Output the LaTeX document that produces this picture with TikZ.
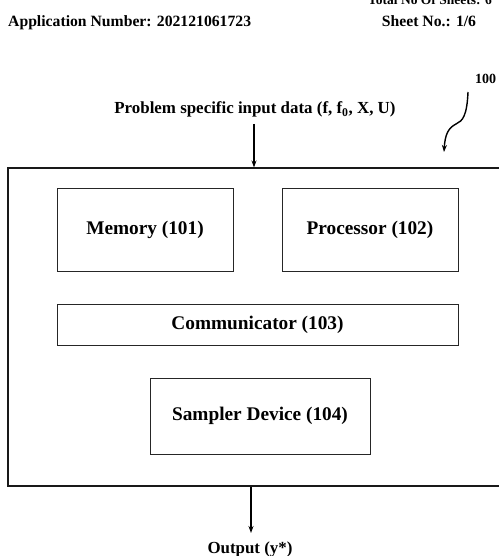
\documentclass[tikz,border=0pt]{standalone}
\usepackage{fontspec}
\setmainfont{Liberation Serif}
\usetikzlibrary{arrows.meta}
\begin{document}
\begin{tikzpicture}[x=1pt,y=-1pt,
  box/.style={draw=black!85,line width=0.9pt,inner sep=0pt,font=\fontsize{19.3}{22}\selectfont\bfseries},
  arr/.style={line width=1.4pt,-{Stealth[length=7pt,width=5pt]}},
  lbl/.style={inner sep=0pt,anchor=base,font=\fontsize{16.9}{20}\selectfont\bfseries},
  hdr/.style={inner sep=0pt,anchor=base,font=\fontsize{15.7}{18}\selectfont\bfseries}]
\useasboundingbox (0,0) rectangle (498,556);
% header
\node[hdr,anchor=base west] (appno) at (8,27) {Application Number: 202121061723};
\node[hdr,font=\fontsize{13.5}{16}\selectfont\bfseries] (total) at (430,4.5) {Total No Of Sheets: 6};
\node[hdr] (sheet) at (429,27) {Sheet No.: 1/6};
% reference numeral
\node[inner sep=0pt,anchor=base west,font=\fontsize{14}{16}\selectfont\bfseries] (ref) at (475,84) {100};
\coordinate (sqA) at (468,92);
\coordinate (sqB) at (444,152);
\draw[line width=1.4pt,-{Stealth[length=7pt,width=5pt]}] (sqA) .. controls (467,115) and (463,121) .. (456,124) .. controls (448,128) and (445,135) .. (sqB);
% outer system box
\node[draw=black!90,line width=1.1pt,minimum width=512pt,minimum height=318pt,inner sep=0pt] (sys) at (264,327) {};
% input
\node[lbl] (input) at (255,114) {Problem specific input data (f, f\textsubscript{0}, X, U)};
\coordinate (inTop) at (254,124);
\draw[arr] (inTop) -- (inTop |- sys.north);
% inner boxes
\node[box,minimum width=176pt,minimum height=83pt] (mem) at (145,229.5) {Memory (101)};
\node[box,minimum width=176pt,minimum height=83pt] (proc) at (370,229.5) {Processor (102)};
\node[box,minimum width=401pt,minimum height=41pt] (comm) at (257.5,324.5) {Communicator (103)};
\node[box,minimum width=220pt,minimum height=76pt] (samp) at (260,416) {Sampler Device (104)};
% output
\coordinate (outTop) at (251,486);
\node[lbl] (output) at (250,553) {Output (y*)};
\draw[arr] (outTop |- sys.south) -- (251,533);
\end{tikzpicture}
\end{document}
